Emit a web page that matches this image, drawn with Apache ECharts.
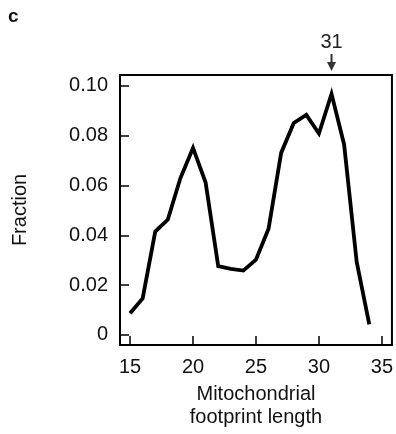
<!DOCTYPE html>
<html>
<head>
<meta charset="utf-8">
<script src="https://cdn.jsdelivr.net/npm/echarts@6/dist/echarts.min.js"></script>
<style>
html,body{margin:0;padding:0;background:#fff;}
#c{width:396px;height:434px;}
</style>
</head>
<body>
<div id="c"></div>
<script>
var lengths = [15,16,17,18,19,20,21,22,23,24,25,26,27,28,29,30,31,32,33,34];
var fractions = [0.0087,0.0146,0.0415,0.0463,0.0630,0.0751,0.0612,0.0276,0.0265,0.0258,0.0302,0.0426,0.0731,0.0851,0.0884,0.0809,0.0968,0.0765,0.0293,0.0042];
var xTicks = [15,20,25,30,35];
var yTicks = [0,0.02,0.04,0.06,0.08,0.10];
var peakLabel = 31;

var FONT = '"Liberation Sans", Arial, sans-serif';
var chart = echarts.init(document.getElementById('c'), null, {renderer:'canvas'});
var data = lengths.map(function(x,i){return [x, fractions[i]];});
chart.setOption({
  animation:false,
  backgroundColor:'#fff',
  grid:{left:120,right:3,top:75,bottom:87,show:true,borderColor:'#000',borderWidth:2,backgroundColor:'transparent'},
  xAxis:{
    type:'value', min:14.2, max:35.8,
    axisLine:{show:true,onZero:false,lineStyle:{color:'#000',width:2}},
    axisTick:{show:true,inside:true,length:9,customValues:xTicks,lineStyle:{color:'#000',width:1.5}},
    axisLabel:{customValues:xTicks,margin:12,color:'#111',fontSize:20,fontFamily:FONT},
    splitLine:{show:false},
    name:'Mitochondrial\nfootprint length',nameLocation:'middle',nameGap:38,
    nameTextStyle:{color:'#111',fontSize:20,fontFamily:FONT,lineHeight:23}
  },
  yAxis:{
    type:'value', min:-0.0041, max:0.1044,
    axisLine:{show:true,onZero:false,lineStyle:{color:'#000',width:2}},
    axisTick:{show:true,inside:true,length:9,customValues:yTicks,lineStyle:{color:'#000',width:1.5}},
    axisLabel:{customValues:yTicks,margin:12,color:'#111',fontSize:20,fontFamily:FONT,
      formatter:function(v){return Math.abs(v)<1e-9?'0':v.toFixed(2);}},
    splitLine:{show:false},
    name:'Fraction',nameLocation:'middle',nameGap:90,nameRotate:90,
    nameTextStyle:{color:'#111',fontSize:20,fontFamily:FONT}
  },
  series:[{
    type:'line',data:data,showSymbol:false,symbol:'none',smooth:false,
    lineStyle:{color:'#000',width:3.8,join:'miter'}
  }]
});
var px = chart.convertToPixel({xAxisIndex:0}, peakLabel);
chart.setOption({
  graphic:[
    {type:'text',left:8,top:7,style:{text:'c',font:'bold 19px '+FONT,fill:'#111'}},
    {type:'text',x:px,y:42,style:{text:String(peakLabel),font:'20px '+FONT,fill:'#222',align:'center',verticalAlign:'middle'}},
    {type:'rect',shape:{x:px-1,y:54,width:2,height:9},style:{fill:'#333'}},
    {type:'polygon',shape:{points:[[px-4.5,62],[px+4.5,62],[px,71]]},style:{fill:'#333'}}
  ]
});
</script>
</body>
</html>
